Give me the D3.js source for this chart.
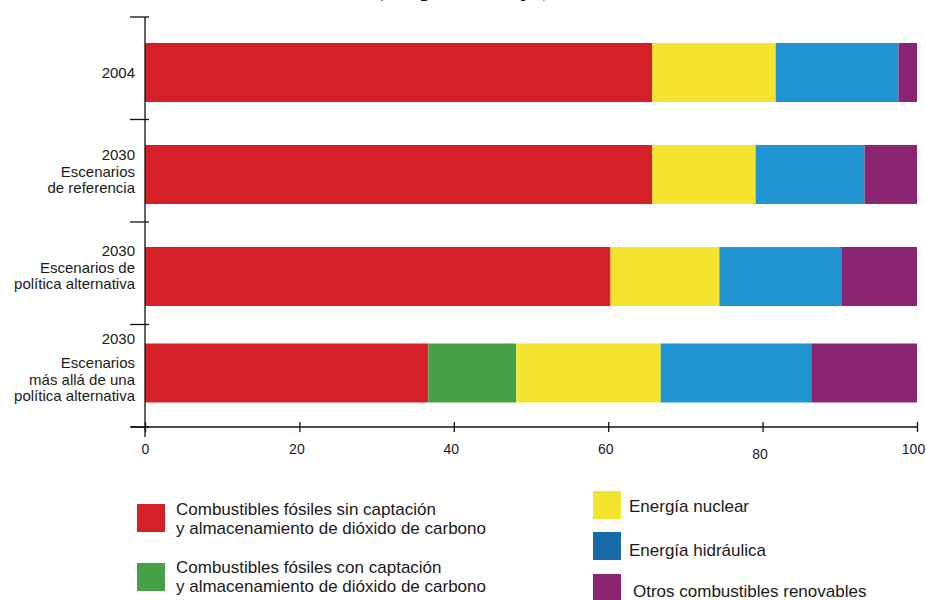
<!DOCTYPE html>
<html>
<head>
<meta charset="utf-8">
<script src="https://cdn.jsdelivr.net/npm/d3@7/dist/d3.min.js"></script>
<style>
  html, body { margin: 0; padding: 0; background: #fff; }
  svg { display: block; }
  text { font-family: "Liberation Sans", Arial, Helvetica, sans-serif; fill: #1a1a1a; }
</style>
</head>
<body>
<svg id="chart" width="926" height="600"></svg>
<script>
// ---- DATA ----
const categories = ["2004", "2030 ref", "2030 alt", "2030 beyond"];
const categoryLabels = [
  ["2004"],
  ["2030", "Escenarios", "de referencia"],
  ["2030", "Escenarios de", "política alternativa"],
  ["2030", "", "Escenarios", "más allá de una", "política alternativa"]
];
const seriesNames = [
  "Combustibles fósiles sin captación y almacenamiento de dióxido de carbono",
  "Combustibles fósiles con captación y almacenamiento de dióxido de carbono",
  "Energía nuclear",
  "Energía hidráulica",
  "Otros combustibles renovables"
];
const fossilNoCCS = [65.7, 65.7, 60.3, 36.7];
const fossilCCS   = [0,    0,    0,    11.4];
const nuclear     = [16.0, 13.4, 14.1, 18.7];
const hydro       = [15.9, 14.1, 15.8, 19.5];
const renewables  = [2.4,  6.8,  9.8,  13.7];
const xTickValues = [0, 20, 40, 60, 80, 100];
const titleText = "(en porcentaje)";

// ---- STYLE ----
const barColors = ["#d62027", "#46a046", "#f5e42d", "#1f96d1", "#8a2574"];
const legendColors = ["#d62027", "#46a046", "#f5e42d", "#1769a8", "#8a2574"];

const svg = d3.select("#chart");

// title (mostly cut off at the top, as in the source)
svg.append("text")
  .attr("x", 465).attr("y", -4)
  .attr("text-anchor", "middle")
  .style("font-family", "'Liberation Serif', 'DejaVu Serif', serif")
  .style("font-style", "italic")
  .style("font-weight", "bold")
  .style("font-size", "24px")
  .attr("textLength", 176)
  .text(titleText);

const x = d3.scaleLinear().domain([0, 100]).range([145, 917]);
const y = d3.scaleBand().domain(categories).range([17, 427]).padding(0);

const seriesArrays = [fossilNoCCS, fossilCCS, nuclear, hydro, renewables];
const rows = categories.map((c, i) => {
  const r = { cat: c };
  seriesNames.forEach((s, k) => r[s] = seriesArrays[k][i]);
  return r;
});
const stacked = d3.stack().keys(seriesNames)(rows);

const barH = 59;
const barTop = [26, 25.5, 25, 19];

const g = svg.append("g");
stacked.forEach((layer, k) => {
  g.selectAll(null).data(layer).enter().append("rect")
    .attr("x", d => x(d[0]))
    .attr("width", d => Math.max(0, x(d[1]) - x(d[0])))
    .attr("y", (d, i) => y(categories[i]) + barTop[i])
    .attr("height", barH)
    .attr("fill", barColors[k]);
});

// y axis line and ticks
svg.append("line")
  .attr("x1", 145).attr("x2", 145)
  .attr("y1", y.range()[0]).attr("y2", y.range()[1] + 10)
  .attr("stroke", "#111").attr("stroke-width", 1.3);
const yTickPos = categories.map(c => y(c)).concat([y.range()[1]]);
svg.selectAll(null).data(yTickPos).enter().append("line")
  .attr("x1", 130).attr("x2", 149)
  .attr("y1", d => d).attr("y2", d => d)
  .attr("stroke", "#111").attr("stroke-width", 1.3);

// category labels
const lineH = 16.5;
const labelShift = [0, -3, -9, -1];
categories.forEach((c, i) => {
  const lines = categoryLabels[i];
  const center = y(c) + barTop[i] + barH / 2;
  const nReal = lines.length;
  const first = center - (nReal - 1) * lineH / 2 + labelShift[i];
  const t = svg.append("text")
    .attr("text-anchor", "end")
    .style("font-size", "15px");
  lines.forEach((ln, j) => {
    let yy = first + j * lineH;
    if (i === 3 && j > 1) yy -= 9;
    if (ln === "") return;
    t.append("tspan").attr("x", 135).attr("y", yy).attr("dy", "0.35em").text(ln);
  });
});

// x axis
const axisY = 427;
svg.append("line")
  .attr("x1", 131).attr("x2", x(100))
  .attr("y1", axisY).attr("y2", axisY)
  .attr("stroke", "#111").attr("stroke-width", 1.3);
const xAxis = d3.axisBottom(x).tickValues(xTickValues).tickSize(5).tickPadding(12).tickFormat(d3.format("d"));
const xg = svg.append("g").attr("transform", `translate(0,${axisY})`).call(xAxis);
xg.select(".domain").remove();
xg.selectAll(".tick line").attr("y1", -5).attr("y2", 5).attr("stroke", "#111").attr("stroke-width", 1.3);
xg.selectAll(".tick text")
  .style("font-size", "14px")
  .style("font-family", "'Liberation Sans', Arial, sans-serif")
  .attr("fill", "#1a1a1a")
  .attr("dx", d => d === 0 ? 0 : d === 100 ? -4 : -3)
  .attr("dy", d => d === 80 ? "1.05em" : "0.71em");

// legend
const legendItems = [
  { k: 0, sx: 137, sy: 504, tx: 176, lines: ["Combustibles fósiles sin captación", "y almacenamiento de dióxido de carbono"], ly: [509, 528] },
  { k: 1, sx: 137, sy: 563, tx: 176, lines: ["Combustibles fósiles con captación", "y almacenamiento de dióxido de carbono"], ly: [567, 586] },
  { k: 2, sx: 593, sy: 491, tx: 629, lines: ["Energía nuclear"], ly: [506] },
  { k: 3, sx: 593, sy: 532, tx: 629, lines: ["Energía hidráulica"], ly: [550] },
  { k: 4, sx: 593, sy: 574, tx: 633, lines: ["Otros combustibles renovables"], ly: [591] }
];
legendItems.forEach(it => {
  svg.append("rect")
    .attr("x", it.sx).attr("y", it.sy)
    .attr("width", 28).attr("height", 28)
    .attr("fill", legendColors[it.k]);
  const t = svg.append("text").style("font-size", "17px");
  it.lines.forEach((ln, j) => {
    t.append("tspan").attr("x", it.tx).attr("y", it.ly[j]).attr("dy", "0.35em").text(ln);
  });
});
</script>
</body>
</html>
